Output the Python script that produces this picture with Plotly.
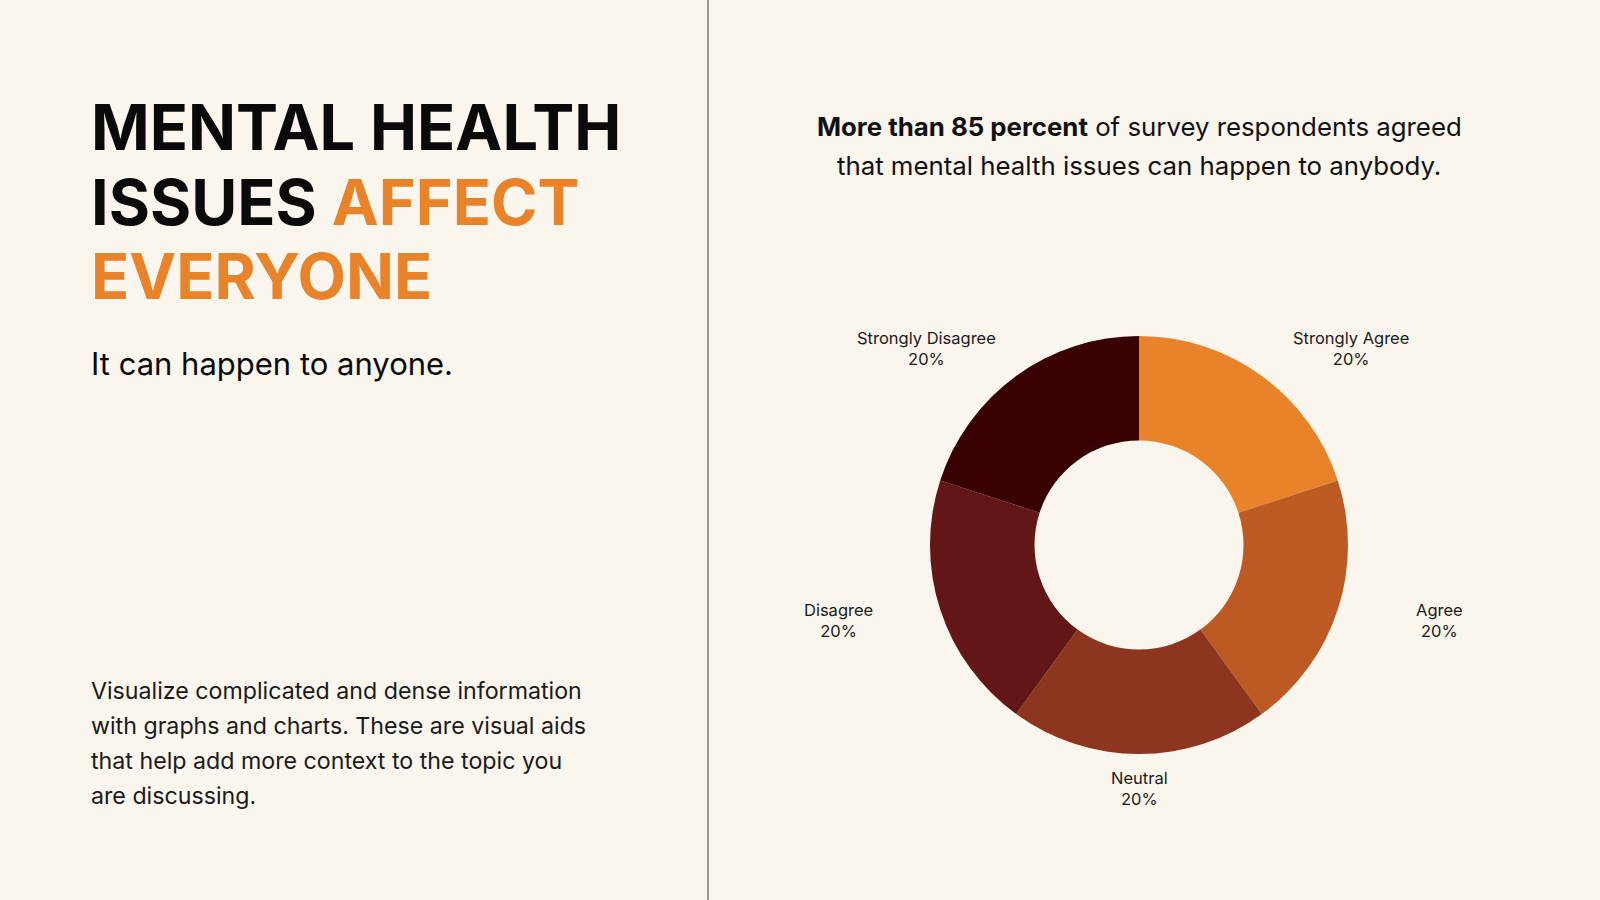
import math
import plotly.graph_objects as go

W, H = 1600, 900

labels = ["Strongly Agree", "Agree", "Neutral", "Disagree", "Strongly Disagree"]
values = [20, 20, 20, 20, 20]
colors = ["#E8832A", "#BD5A24", "#8E3520", "#621716", "#380000"]

title_lines = [
    "MENTAL HEALTH",
    "ISSUES <span style='color:#E8832A'>AFFECT</span>",
    "<span style='color:#E8832A'>EVERYONE</span>",
]
subtitle = "It can happen to anyone."
body_lines = [
    "Visualize complicated and dense information",
    "with graphs and charts. These are visual aids",
    "that help add more context to the topic you",
    "are discussing.",
]
header_lines = [
    "<b>More than 85 percent</b> of survey respondents agreed",
    "that mental health issues can happen to anybody.",
]

bg = "#FAF5ED"
font = "Inter"

# donut placement (pixels)
cx, cy, r = 1139, 545, 209

fig = go.Figure(go.Pie(
    labels=labels, values=values, hole=0.5, sort=False,
    direction="clockwise", rotation=0,
    marker=dict(colors=colors, line=dict(width=0)),
    textinfo="none",
    showlegend=False, hoverinfo="label+percent",
    domain=dict(x=[(cx - r) / W, (cx + r) / W],
                y=[1 - (cy + r) / H, 1 - (cy - r) / H]),
))


def note(text, px, py, size, anchor="left", color="#0a0a0a"):
    fig.add_annotation(
        text=text, x=px / W, y=1 - py / H, xref="paper", yref="paper",
        xanchor=anchor, yanchor="middle", showarrow=False,
        font=dict(family=font, size=size, color=color),
    )


for i, line in enumerate(title_lines):
    note("<b>" + line + "</b>", 89, 127 + i * 74.5, 63)

note(subtitle, 89, 364, 31)

for i, line in enumerate(body_lines):
    note(line, 89, 691 + i * 35, 23.2, color="#1a1a1a")

for i, line in enumerate(header_lines):
    note(line, 1139, 126 + i * 39, 25.8, anchor="center", color="#111111")

# slice labels placed outside, around each slice's middle angle
total = sum(values)
start = 0
for lab, v in zip(labels, values):
    mid = math.radians((start + v / 2) / total * 360)
    start += v
    s, c = math.sin(mid), math.cos(mid)
    side = 0 if abs(s) < 1e-9 else math.copysign(1, s)
    lx = cx + 242 * s + 70 * side
    ly = cy - 243 * c
    pct = f"{v / total * 100:.0f}%"
    note(f"{lab}<br>{pct}", lx, ly, 16.5, anchor="center", color="#1a1a1a")

fig.add_shape(type="line", xref="paper", yref="paper",
              x0=708 / W, x1=708 / W, y0=0, y1=1,
              line=dict(color="#545a54", width=1.2))

fig.update_layout(
    width=W, height=H,
    margin=dict(l=0, r=0, t=0, b=0),
    paper_bgcolor=bg, plot_bgcolor=bg,
)

fig.write_html("out.html", config={"displayModeBar": False},
               post_script="document.body.style.margin='0';")
